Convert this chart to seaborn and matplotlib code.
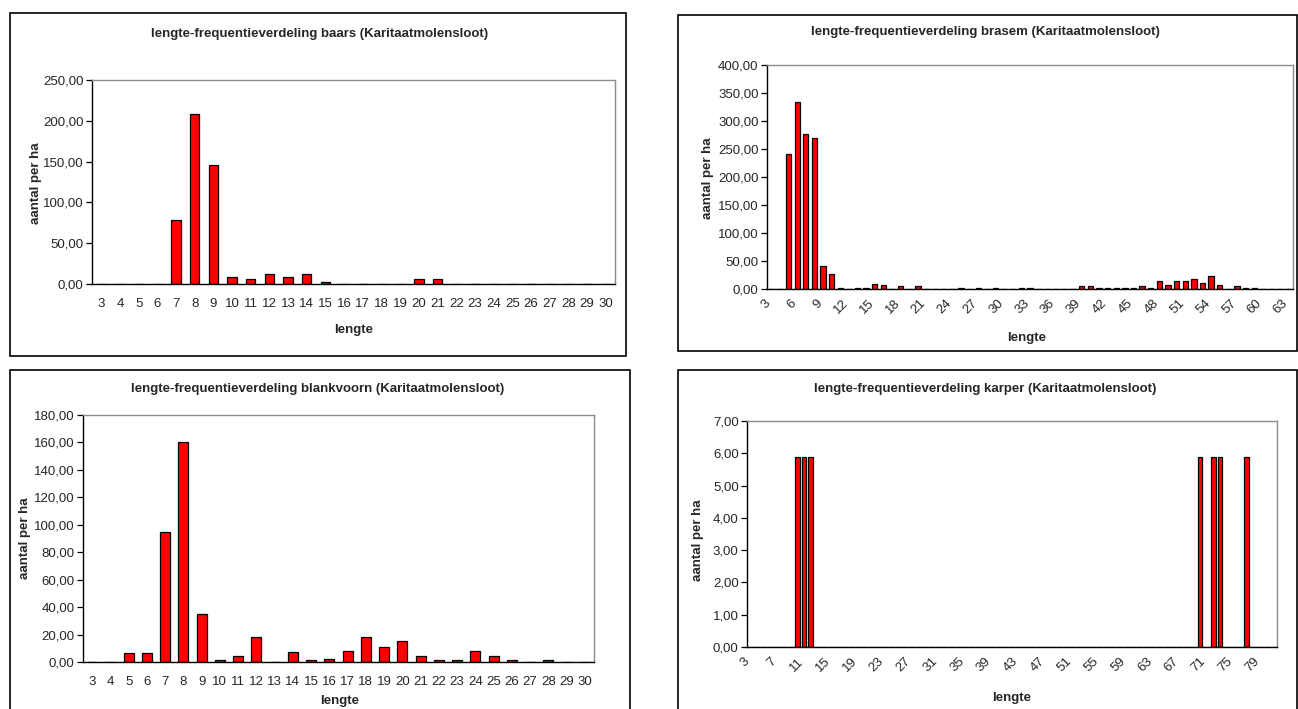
import numpy as np
import pandas as pd
import matplotlib
matplotlib.use("Agg")
import matplotlib.pyplot as plt
from matplotlib.patches import Rectangle
from matplotlib.ticker import FuncFormatter, MultipleLocator
from matplotlib.transforms import ScaledTranslation
import seaborn as sns

# ---------------- data ----------------
baars_lengte = list(range(3, 31))
baars_aantal = [0, 0, 0, 0, 78.6, 208.8, 146.0, 8.0, 6.5, 12.7, 8.0, 12.7, 2.0, 0,
                0, 0, 0, 6.5, 6.5, 0, 0, 0, 0, 0, 0, 0, 0, 0]

brasem_lengte = list(range(3, 64))
brasem_aantal = [0, 0, 241.0, 334.0, 277.0, 270.0, 41.0, 27.0, 2.4, 0,
                 2.4, 2.4, 9.5, 7.0, 0, 4.8, 0, 4.8, 0, 0,
                 0, 0, 2.4, 0, 2.4, 0, 2.4, 0, 0, 2.4,
                 2.4, 0, 0, 0, 0, 0, 5.4, 5.4, 2.4, 2.4,
                 2.4, 2.4, 2.4, 4.8, 2.4, 14.3, 6.5, 14.3, 14.3, 18.5,
                 11.3, 22.6, 7.1, 0, 4.8, 2.4, 2.4, 0, 0, 0,
                 0]

blankvoorn_lengte = list(range(3, 31))
blankvoorn_aantal = [0, 0, 6.3, 6.3, 94.4, 160.3, 35.3, 1.2, 4.6, 18.5,
                     0, 7.3, 1.2, 2.2, 8.0, 18.5, 10.7, 15.1, 4.6, 1.2,
                     1.2, 8.0, 4.1, 1.2, 0, 1.2, 0, 0]

karper_lengte = list(range(3, 82))
karper_aantal = [0, 0, 0, 0, 0, 0, 0, 5.87, 5.87, 5.87,
                 0, 0, 0, 0, 0, 0, 0, 0, 0, 0,
                 0, 0, 0, 0, 0, 0, 0, 0, 0, 0,
                 0, 0, 0, 0, 0, 0, 0, 0, 0, 0,
                 0, 0, 0, 0, 0, 0, 0, 0, 0, 0,
                 0, 0, 0, 0, 0, 0, 0, 0, 0, 0,
                 0, 0, 0, 0, 0, 0, 0, 5.87, 0, 5.87,
                 5.87, 0, 0, 0, 5.87, 0, 0, 0, 0]

titles = ["lengte-frequentieverdeling baars (Karitaatmolensloot)",
          "lengte-frequentieverdeling brasem (Karitaatmolensloot)",
          "lengte-frequentieverdeling blankvoorn (Karitaatmolensloot)",
          "lengte-frequentieverdeling karper (Karitaatmolensloot)"]
x_title = "lengte"
y_title = "aantal per ha"

# ---------------- style ----------------
sns.set_style("white")
plt.rcParams["font.family"] = ["Liberation Sans", "DejaVu Sans"]

W, H = 1298, 709
fig = plt.figure(figsize=(W / 100, H / 100), dpi=100)
fig.patch.set_facecolor("white")


def fx(x):
    return x / W


def fy(y):
    return 1 - y / H


def frame(x0, y0, x1, y1):
    fig.patches.append(Rectangle((fx(x0), fy(y1)), (x1 - x0) / W, (y1 - y0) / H,
                                 transform=fig.transFigure, fill=False,
                                 edgecolor="black", linewidth=1.2, zorder=0))


comma_fmt = FuncFormatter(lambda v, p: f"{v:.2f}".replace(".", ","))


def panel(box, lengte, aantal, ymax, ystep, label_every, rotate, width,
          title, title_xy, ylabel_xy, xlabel_xy, frame_box):
    x0, y0, x1, y1 = box
    ax = fig.add_axes([fx(x0), fy(y1), (x1 - x0) / W, (y1 - y0) / H])
    cats = [str(c) for c in lengte]
    df = pd.DataFrame({"lengte": cats, "aantal": aantal})
    sns.barplot(data=df, x="lengte", y="aantal", order=cats, color="#ff0000",
                saturation=1, edgecolor="black", linewidth=0.9, width=width,
                errorbar=None, ax=ax)
    n = len(cats)
    ax.set_xlim(-0.5, n - 0.5)
    ax.set_ylim(0, ymax)
    ax.yaxis.set_major_locator(MultipleLocator(ystep))
    ax.yaxis.set_major_formatter(comma_fmt)
    idx = list(range(0, n, label_every))
    ax.set_xticks(idx)
    ax.set_xticklabels([cats[i] for i in idx])
    ax.set_xticks(np.arange(-0.5, n, 1.0), minor=True)
    ax.tick_params(axis="x", which="major", length=0, labelsize=9.5,
                   pad=6 if rotate else 10)
    ax.tick_params(axis="x", which="minor", length=4, width=0.9, direction="out", color="black")
    ax.tick_params(axis="y", which="major", length=4, width=0.9, direction="out",
                   labelsize=9.5, pad=2, color="black", left=True)
    if rotate:
        off = ScaledTranslation(-5 / 72, 0, fig.dpi_scale_trans)
        for t in ax.get_xticklabels():
            t.set_rotation(45)
            t.set_ha("right")
            t.set_rotation_mode("anchor")
            t.set_transform(t.get_transform() + off)
    ax.set_xlabel("")
    ax.set_ylabel("")
    for s in ["left", "bottom"]:
        ax.spines[s].set_color("black")
        ax.spines[s].set_linewidth(1.0)
    for s in ["top", "right"]:
        ax.spines[s].set_visible(True)
        ax.spines[s].set_color("#8c8c8c")
        ax.spines[s].set_linewidth(1.0)
    ax.set_facecolor("white")
    fig.text(fx(title_xy[0]), fy(title_xy[1]), title, ha="center", va="center",
             fontsize=9.5, fontweight="bold")
    fig.text(fx(ylabel_xy[0]), fy(ylabel_xy[1]), y_title, ha="center", va="center",
             rotation=90, fontsize=9.5, fontweight="bold")
    fig.text(fx(xlabel_xy[0]), fy(xlabel_xy[1]), x_title, ha="center", va="center",
             fontsize=9.5, fontweight="bold")
    frame(*frame_box)
    return ax


panel((92, 80, 615, 284), baars_lengte, baars_aantal, 250, 50, 1, False, 0.5,
      titles[0], (320, 34), (36, 183), (354, 330), (10, 13, 626, 356))
panel((767, 65, 1293, 289), brasem_lengte, brasem_aantal, 400, 50, 3, True, 0.62,
      titles[1], (985, 32), (708, 178), (1027, 338), (678, 15, 1297, 351))
panel((83, 415, 594, 662), blankvoorn_lengte, blankvoorn_aantal, 180, 20, 1, False, 0.55,
      titles[2], (318, 389), (25, 538), (340, 701), (10, 370, 630, 712))
panel((747, 421, 1277, 647), karper_lengte, karper_aantal, 7, 1, 4, True, 0.7,
      titles[3], (985, 389), (698, 540), (1012, 698), (678, 370, 1297, 712))

fig.savefig("out.png", dpi=100, facecolor="white")
